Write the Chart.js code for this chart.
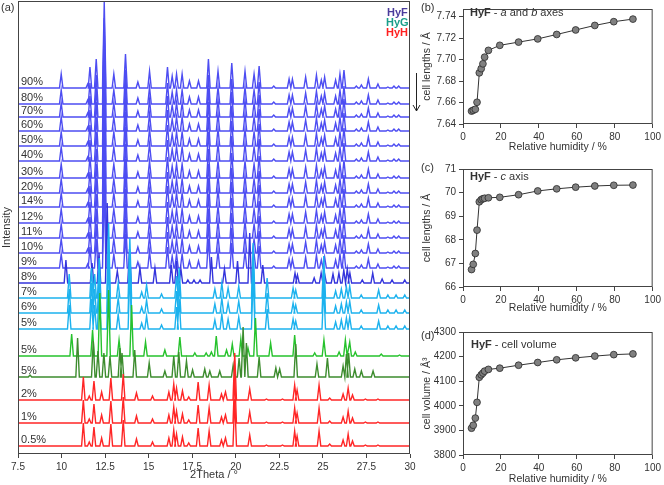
<!DOCTYPE html>
<html>
<head>
<meta charset="utf-8">
<script src="https://cdn.jsdelivr.net/npm/chart.js@4.4.0/dist/chart.umd.min.js"></script>
<style>
  body { margin: 0; background: #fff; width: 664px; height: 485px; position: relative; overflow: hidden;
         font-family: "Liberation Sans", Arial, sans-serif; }
  .box { position: absolute; }
  .t { position: absolute; font-size: 11px; color: #333; white-space: nowrap; line-height: 12px; }
</style>
</head>
<body>
<div class="box" style="left:0;top:0;width:424px;height:485px"><canvas id="xrdChart"></canvas></div>
<div class="box" style="left:420px;top:0;width:244px;height:160px"><canvas id="abChart"></canvas></div>
<div class="box" style="left:420px;top:160px;width:244px;height:160px"><canvas id="cChart"></canvas></div>
<div class="box" style="left:420px;top:320px;width:244px;height:165px"><canvas id="volChart"></canvas></div>

<div class="t" style="left:1px;top:1px">(a)</div>
<div class="t" style="left:387px;top:6px;font-weight:bold;color:#4a3c9c">HyF</div>
<div class="t" style="left:386px;top:16px;font-weight:bold;color:#1a9e8a">HyG</div>
<div class="t" style="left:386px;top:26px;font-weight:bold;color:#ff2020">HyH</div>
<div class="t" style="left:421px;top:1px">(b)</div>
<div class="t" style="left:421px;top:161px">(c)</div>
<div class="t" style="left:421px;top:329px">(d)</div>
<div class="t" style="left:470px;top:6px"><b>HyF</b> - <i>a</i> and <i>b</i> axes</div>
<div class="t" style="left:470px;top:170px"><b>HyF</b> - <i>c</i> axis</div>
<div class="t" style="left:471px;top:338px"><b>HyF</b> - cell volume</div>

<script>
// tick labels
const thetaTicks = [7.5, 10, 12.5, 15, 17.5, 20, 22.5, 25, 27.5, 30];
const rhTicks = [0, 10, 20, 30, 40, 50, 60, 70, 80, 90, 100];
const abTicks = [7.64, 7.66, 7.68, 7.70, 7.72, 7.74];
const cTicks = [66, 67, 68, 69, 70, 71];
const volTicks = [3800, 3900, 4000, 4100, 4200, 4300];

// XRD traces, bottom to top: name, vertical offset, phase
const traceNames = ['0.5%', '1%', '2%', '5%', '5%', '5%', '6%', '7%', '8%', '9%', '10%', '11%',
                    '12%', '14%', '20%', '30%', '40%', '50%', '60%', '70%', '80%', '90%'];
const traceOffsets = [8, 31, 54, 77, 98, 125, 141, 156, 171, 186, 201, 216,
                      231, 247, 261, 276, 293, 308, 323, 337, 350, 366];
const tracePhases = ['H', 'H', 'H', 'G2', 'G1', 'C', 'C', 'C', 'F8', 'F', 'F', 'F',
                     'F', 'F', 'F', 'F', 'F', 'F', 'F', 'F', 'F', 'F'];

// peaks [2theta, height]
const peaksHyF = [[9.98, 14], [11.5, 4], [11.63, 21], [11.99, 29], [12.45, 86], [13.0, 14], [13.67, 34],
  [14.38, 6], [15.05, 17], [16.08, 21], [16.35, 12], [16.6, 14], [16.92, 14], [17.34, 7], [17.86, 7],
  [18.43, 29], [18.98, 17], [19.77, 25], [20.53, 17], [21.05, 14], [21.34, 22], [22.18, 2], [23.06, 9],
  [23.25, 9], [24.01, 11], [24.63, 13], [24.91, 8], [25.1, 11], [25.73, 8], [25.98, 14], [26.21, 18],
  [26.92, 2], [27.21, 3], [27.61, 9], [28.16, 4], [28.73, 1], [29.08, 2], [29.35, 2]];
const peaksHyF8 = [[10.25, 23], [11.75, 20], [12.15, 30], [12.62, 80], [13.2, 12], [13.9, 34], [14.5, 15],
  [15.36, 15], [16.3, 18], [16.6, 22], [16.85, 14], [17.25, 3], [17.6, 3], [17.95, 3], [18.6, 26],
  [19.35, 14], [20.1, 22], [20.8, 50], [21.55, 18], [23.4, 10], [23.54, 8], [24.5, 5], [24.9, 10],
  [25.1, 9], [25.58, 9], [25.92, 10], [26.2, 13], [26.4, 14], [26.55, 10], [27.26, 3], [27.86, 10],
  [28.4, 4], [28.97, 3], [29.7, 3]];
const peaksCyan = [[10.44, 24], [11.72, 30], [11.9, 24], [12.16, 40], [12.7, 75], [13.25, 15], [13.92, 60],
  [14.6, 6], [14.88, 13], [15.74, 4], [16.6, 22], [16.75, 30], [18.8, 9], [19.2, 15], [19.56, 10],
  [20.17, 12], [21.0, 55], [21.8, 20], [23.29, 10], [23.44, 8], [25.05, 42], [25.73, 7], [26.06, 9],
  [26.35, 11], [26.54, 12], [27.2, 3], [28.2, 8], [28.73, 3], [29.2, 3], [29.7, 3]];
const peaksGreen = [[10.58, 22], [11.78, 26], [12.2, 63], [12.7, 66], [13.3, 16], [14.02, 51], [14.82, 14],
  [15.93, 6], [16.79, 19], [17.65, 3], [18.3, 3], [18.6, 4], [18.88, 20], [19.47, 6], [19.8, 12],
  [20.29, 17], [20.7, 8], [21.13, 38], [22.0, 13], [23.38, 21], [24.53, 3], [25.06, 16], [25.93, 4],
  [26.29, 16], [26.54, 14], [26.86, 4], [28.35, 2], [29.4, 1]];
const peaksGreenDark = [[8.19, 2], [10.92, 39], [11.82, 36], [12.09, 26], [12.43, 24], [12.78, 21],
  [13.35, 29], [13.47, 24], [14.2, 27], [15.03, 14], [15.93, 6], [16.44, 21], [16.73, 25], [17.17, 16],
  [17.52, 7], [18.22, 8], [18.51, 6], [19.08, 6], [19.85, 12], [20.19, 19], [20.42, 50], [20.61, 34],
  [21.34, 20], [22.3, 9], [22.52, 8], [23.44, 33], [24.66, 13], [25.26, 19], [26.16, 11], [26.35, 23],
  [26.48, 24], [26.83, 8], [27.21, 6], [27.88, 6]];
const peaksHyH = [[11.25, 23], [11.59, 4], [11.86, 19], [12.3, 8], [12.83, 22], [13.54, 26], [14.3, 7],
  [15.22, 4], [16.16, 8], [16.44, 16], [16.6, 12], [16.94, 9], [17.3, 3], [17.84, 18], [18.47, 15],
  [19.18, 6], [19.41, 8], [19.94, 47], [20.8, 11], [21.76, 1], [22.68, 1], [23.38, 15], [23.52, 10],
  [24.78, 15], [25.39, 2], [26.16, 6], [26.45, 12], [26.7, 5], [27.44, 1], [28.16, 1]];

// cell parameters vs relative humidity
const rh = [4.5, 5.4, 6.5, 7.4, 8.6, 9.6, 10.5, 11.4, 13.4, 19.4, 29.3, 39.4, 49.4, 59.4, 69.5, 79.5, 89.6];
const cellAB = [7.652, 7.6528, 7.6537, 7.6602, 7.6876, 7.6915, 7.696, 7.7022, 7.7085, 7.7132, 7.7162,
                7.7192, 7.7233, 7.7275, 7.7317, 7.7352, 7.7376];
const cellC = [66.74, 66.96, 67.42, 68.41, 69.61, 69.70, 69.74, 69.76, 69.78, 69.80, 69.91, 70.07,
               70.16, 70.23, 70.28, 70.31, 70.32];
const cellVol = [3909, 3921, 3950, 4014, 4116, 4126, 4133, 4141, 4148, 4153, 4165, 4176, 4187, 4195,
                 4202, 4208, 4211];

const phasePeaks = { F: peaksHyF, F8: peaksHyF8, C: peaksCyan, G1: peaksGreen, G2: peaksGreenDark, H: peaksHyH };
const phaseColors = { F: '#4d4df2', F8: '#3434dc', C: '#1cb2ee', G1: '#26c22c', G2: '#3d8c2e', H: '#ff2626' };

Chart.defaults.font.family = '"Liberation Sans", Arial, sans-serif';
Chart.defaults.font.size = 10;
Chart.defaults.color = '#333';
Chart.defaults.animation = false;

// stick-like peak profile on top of the trace offset
function profile(peaks, base) {
    const w = 0.1;
    const pts = [{ x: 7.5, y: base }];
    peaks.slice().sort((a, b) => a[0] - b[0]).forEach(([t, h]) => {
        pts.push({ x: t - w, y: base }, { x: t, y: base + h }, { x: t + w, y: base });
    });
    pts.push({ x: 30, y: base });
    return pts;
}

const framePlugin = {
    id: 'frame',
    afterDraw(chart) {
        const { ctx, chartArea: a } = chart;
        ctx.save();
        ctx.strokeStyle = '#444';
        ctx.lineWidth = 1;
        ctx.strokeRect(a.left + 0.5, a.top + 0.5, a.right - a.left - 1, a.bottom - a.top - 1);
        ctx.restore();
    }
};

const traceLabelPlugin = {
    id: 'traceLabels',
    afterDatasetsDraw(chart) {
        const { ctx, scales: { x, y } } = chart;
        ctx.save();
        ctx.font = '11px "Liberation Sans", Arial, sans-serif';
        ctx.fillStyle = '#333';
        ctx.textBaseline = 'middle';
        traceNames.forEach((n, i) => {
            ctx.fillText(n, x.left + 3, y.getPixelForValue(traceOffsets[i] + 6));
        });
        // arrow on the right: high to low humidity
        ctx.strokeStyle = '#222';
        ctx.lineWidth = 1;
        ctx.beginPath();
        ctx.moveTo(416.5, 73); ctx.lineTo(416.5, 111);
        ctx.moveTo(413, 105); ctx.lineTo(416.5, 111); ctx.lineTo(420, 105);
        ctx.stroke();
        ctx.restore();
    }
};

const xrdChart = new Chart(document.getElementById('xrdChart'), {
    type: 'line',
    data: {
        datasets: traceNames.map((n, i) => ({
            label: n,
            data: profile(phasePeaks[tracePhases[i]], traceOffsets[i]),
            borderColor: phaseColors[tracePhases[i]],
            borderWidth: 1.4,
            pointRadius: 0,
            tension: 0,
            fill: false
        }))
    },
    options: {
        responsive: true,
        maintainAspectRatio: false,
        layout: { padding: { top: 1, right: 14, left: 0, bottom: 0 } },
        plugins: { legend: { display: false }, tooltip: { enabled: false } },
        scales: {
            x: {
                type: 'linear', min: 7.5, max: 30,
                afterBuildTicks: s => { s.ticks = thetaTicks.map(v => ({ value: v })); },
                afterFit: s => { s.height = 31; },
                ticks: { font: { size: 10 }, color: '#333', maxRotation: 0, padding: 3 },
                grid: { drawOnChartArea: false, drawTicks: true, tickLength: 4, color: '#444' },
                border: { display: false },
                title: { display: true, text: '2Theta / °', font: { size: 11 }, color: '#333', padding: { top: 0, bottom: 3 } }
            },
            y: {
                min: 0, max: 453,
                afterFit: s => { s.width = 18; },
                ticks: { display: false },
                grid: { display: false },
                border: { display: false },
                title: { display: true, text: 'Intensity', font: { size: 11 }, color: '#333', padding: { top: 0, bottom: 0 } }
            }
        }
    },
    plugins: [framePlugin, traceLabelPlugin]
});

function cellChart(id, values, yMin, yMax, yTicks, yTitle, decimals, padTop, xHeight, titlePadBottom) {
    return new Chart(document.getElementById(id), {
        type: 'line',
        data: {
            datasets: [{
                data: rh.map((r, i) => ({ x: r, y: values[i] })),
                borderColor: '#333',
                borderWidth: 1,
                pointRadius: 3.4,
                pointBackgroundColor: '#808080',
                pointBorderColor: '#2a2a2a',
                pointBorderWidth: 0.8,
                tension: 0
            }]
        },
        options: {
            responsive: true,
            maintainAspectRatio: false,
            layout: { padding: { top: padTop, right: 7, left: 0, bottom: 0 } },
            plugins: { legend: { display: false }, tooltip: { enabled: false } },
            scales: {
                x: {
                    type: 'linear', min: 0, max: 100,
                    afterBuildTicks: s => { s.ticks = rhTicks.map(v => ({ value: v })); },
                    afterFit: s => { s.height = xHeight; },
                    ticks: { font: { size: 10 }, color: '#333', maxRotation: 0, padding: 3 },
                    grid: { drawOnChartArea: false, drawTicks: true, tickLength: 4, color: '#444' },
                    border: { display: false },
                    title: { display: true, text: 'Relative humidity / %', font: { size: 10.5 }, color: '#333',
                             padding: { top: 0, bottom: titlePadBottom } }
                },
                y: {
                    min: yMin, max: yMax,
                    afterBuildTicks: s => { s.ticks = yTicks.map(v => ({ value: v })); },
                    afterFit: s => { s.width = 43; },
                    ticks: { font: { size: 10 }, color: '#333', padding: 3,
                             callback: v => Number(v).toFixed(decimals) },
                    grid: { drawOnChartArea: false, drawTicks: true, tickLength: 4, color: '#444' },
                    border: { display: false },
                    title: { display: true, text: yTitle, font: { size: 10.5 }, color: '#333', padding: { top: 1, bottom: 0 } }
                }
            }
        },
        plugins: [framePlugin]
    });
}

const abChart = cellChart('abChart', cellAB, 7.64, 7.747, abTicks, 'cell lengths / Å', 2, 4, 36, 7);
const cChart = cellChart('cChart', cellC, 66, 71, cTicks, 'cell lengths / Å', 0, 4, 33, 6);
const volChart = cellChart('volChart', cellVol, 3800, 4300, volTicks, 'cell volume / Å³', 0, 12, 30, 0);
</script>
</body>
</html>
